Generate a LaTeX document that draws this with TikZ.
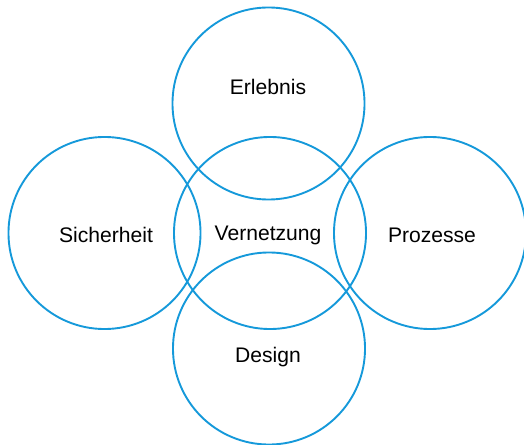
\documentclass[tikz,border=0pt]{standalone}
\usepackage{fontspec}
\setmainfont{Liberation Sans}
\definecolor{ringblue}{HTML}{1599DA}
\begin{document}
\begin{tikzpicture}[x=0.025cm,y=-0.025cm,
  ring/.style={draw=ringblue, line width=1.35pt, circle, minimum size=4.8cm, inner sep=0pt},
  word/.style={font=\fontsize{15}{18}\selectfont}]
  \useasboundingbox (0,0) rectangle (524,445);
  \node[ring] (ce) at (268.5,103.5) {};
  \node[ring] (cs) at (104.5,233) {};
  \node[ring] (cv) at (270,233) {};
  \node[ring] (cp) at (430,233) {};
  \node[ring] (cd) at (269,348.5) {};
  \node[word] (e) at (268,87) {Erlebnis};
  \node[word] (s) at (106,235) {Sicherheit};
  \node[word] (v) at (268,235) {Vernetzung};
  \node[word] (p) at (432,235) {Prozesse};
  \node[word] (d) at (268,357) {Design};
\end{tikzpicture}
\end{document}
